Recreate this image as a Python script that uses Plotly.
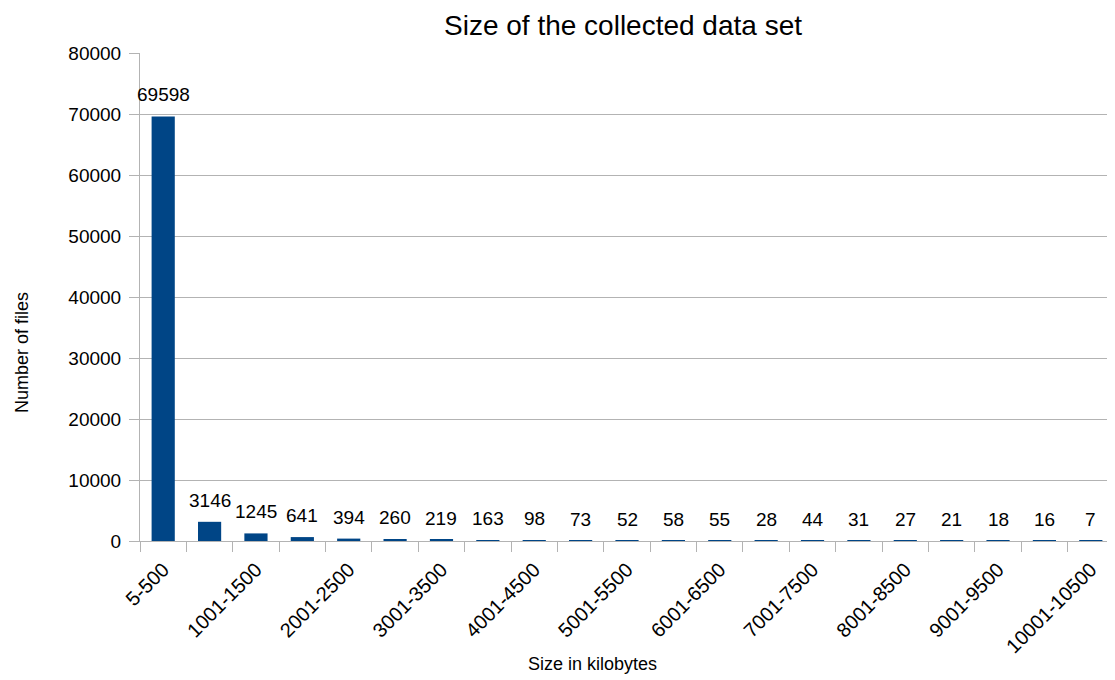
import plotly.graph_objects as go

categories = ["5-500", "501-1000", "1001-1500", "1501-2000", "2001-2500", "2501-3000",
              "3001-3500", "3501-4000", "4001-4500", "4501-5000", "5001-5500", "5501-6000",
              "6001-6500", "6501-7000", "7001-7500", "7501-8000", "8001-8500", "8501-9000",
              "9001-9500", "9501-10000", "10001-10500"]
counts = [69598, 3146, 1245, 641, 394, 260, 219, 163, 98, 73, 52, 58, 55, 28, 44, 31, 27, 21, 18, 16, 7]
tick_text = [c if i % 2 == 0 else "" for i, c in enumerate(categories)]
y_ticks = [0, 10000, 20000, 30000, 40000, 50000, 60000, 70000, 80000]
y_tick_text = [str(v) for v in y_ticks]

FONT = "Liberation Sans, Arial, sans-serif"
# the page body adds an 8px margin; figure is sized so it ends at the window edge
W, H, OFF = 1107, 672, 8
PL, PT, PB = 140 - OFF, 53 - OFF, 680 - 541
PH = H - PT - PB
PW = W - PL - 1

fig = go.Figure(go.Bar(
    x=categories, y=counts,
    marker=dict(color="#004586", line=dict(width=0)),
    cliponaxis=False,
))

annotations = [
    dict(x=c, y=v, xref="x", yref="y", text=str(v), showarrow=False,
         yanchor="bottom", yshift=9, font=dict(family=FONT, size=19, color="#000000"))
    for c, v in zip(categories, counts)
]
annotations.append(dict(text="Number of files", textangle=-90, showarrow=False,
                        xref="paper", yref="paper", x=0, xshift=-(140 - 22),
                        y=(541 - 353) / PH, xanchor="center", yanchor="middle",
                        font=dict(family=FONT, size=18, color="#000000")))
annotations.append(dict(text="Size in kilobytes", showarrow=False,
                        xref="paper", yref="paper", x=(592 - 140) / PW,
                        y=-(664 - 541) / PH, xanchor="center", yanchor="middle",
                        font=dict(family=FONT, size=18, color="#000000")))

fig.update_layout(
    width=W, height=H,
    margin=dict(l=PL, r=1, t=PT, b=PB, autoexpand=False),
    paper_bgcolor="white", plot_bgcolor="white",
    bargap=0.5,
    showlegend=False,
    title=dict(text="Size of the collected data set", x=(623 - 140) / PW, xanchor="center", xref="paper",
               y=1 - (25 - OFF) / H, yanchor="middle",
               font=dict(family=FONT, size=28, color="#000000")),
    font=dict(family=FONT, color="#000000"),
    annotations=annotations,
)
fig.update_xaxes(
    type="category", tickvals=categories, ticktext=tick_text, tickangle=-45,
    range=[-0.5, len(categories) - 0.5], autorange=False,
    tickson="boundaries", ticks="outside", ticklen=10, tickcolor="#b3b3b3",
    showline=True, linecolor="#b3b3b3", linewidth=1, showgrid=False,
    tickfont=dict(family=FONT, size=20, color="#000000"), automargin=False,
    ticklabelstandoff=8,
)
fig.update_yaxes(
    range=[0, 80000], autorange=False, tickvals=y_ticks, ticktext=y_tick_text,
    ticks="outside", ticklen=10, tickcolor="#b3b3b3",
    showline=True, linecolor="#b3b3b3", linewidth=1,
    showgrid=True, gridcolor="#b3b3b3", gridwidth=1, zeroline=False,
    tickfont=dict(family=FONT, size=19, color="#000000"), automargin=False,
    ticklabelstandoff=4,
)

fig.write_html("out.html")
